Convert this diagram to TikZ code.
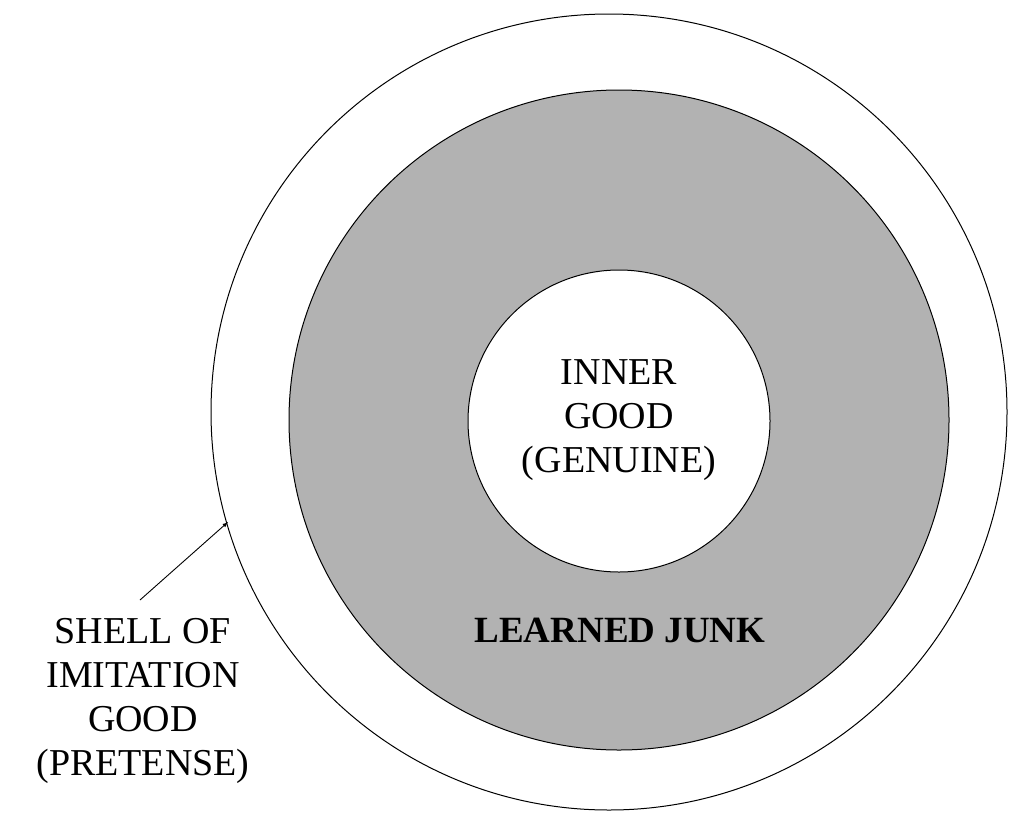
\documentclass[tikz,border=0pt]{standalone}
\usepackage{fontspec}
\setmainfont{Liberation Serif}
\begin{document}
\begin{tikzpicture}[x=1pt,y=-1pt,
  lbl/.style={align=center,font=\fontsize{38}{44}\selectfont}]
  \useasboundingbox (0,0) rectangle (1024,827);
  \node[circle,draw,line width=1pt,minimum size=796pt] (shell) at (609,412) {};
  \node[circle,draw,line width=1pt,fill=black!30,minimum size=660pt] (junk) at (619,420) {};
  \node[circle,draw,line width=1pt,fill=white,minimum size=302pt] (inner) at (619,421) {};

  \node[lbl] (innertxt) at (619,420) {INNER\\GOOD\\(GENUINE)};
  \node[lbl,font=\bfseries\fontsize{37}{44}\selectfont] (junktxt) at (620,630) {LEARNED JUNK};
  \node[lbl] (shelltxt) at (143,701) {SHELL OF\\IMITATION\\GOOD\\(PRETENSE)};

  \coordinate (tip) at (228,522);
  \draw[-latex,line width=0.9pt] (140,600) -- (tip);
\end{tikzpicture}
\end{document}
